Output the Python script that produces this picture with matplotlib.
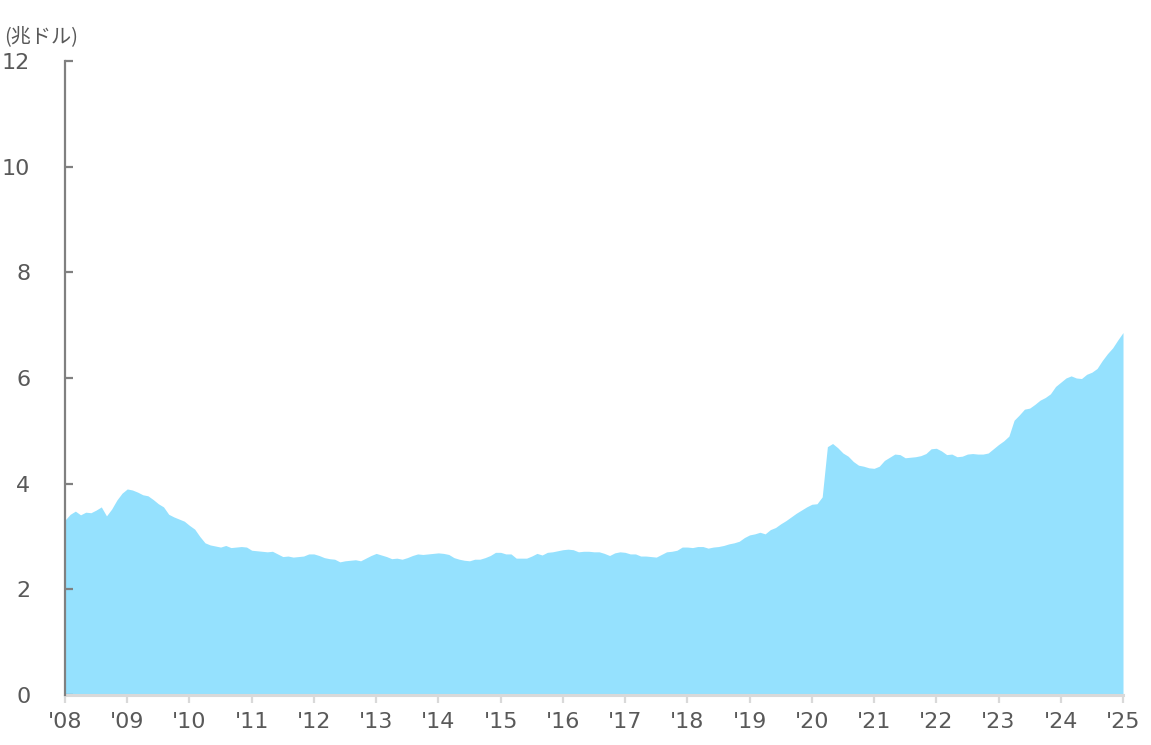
import numpy as np
import matplotlib.pyplot as plt

plt.rcParams['font.family'] = ['DejaVu Sans', 'Noto Sans CJK JP']

# monthly values, Jan 2008 .. Jan 2025 (trillion USD)
y2008 = [3.31, 3.42, 3.48, 3.41, 3.46, 3.45, 3.50, 3.56, 3.39, 3.52, 3.69, 3.82]
y2009 = [3.90, 3.88, 3.84, 3.79, 3.77, 3.70, 3.62, 3.56, 3.42, 3.37, 3.33, 3.29]
y2010 = [3.21, 3.14, 3.00, 2.88, 2.84, 2.82, 2.80, 2.83, 2.79, 2.80, 2.81, 2.80]
y2011 = [2.74, 2.73, 2.72, 2.71, 2.72, 2.67, 2.62, 2.63, 2.61, 2.62, 2.63, 2.67]
y2012 = [2.67, 2.64, 2.60, 2.58, 2.57, 2.52, 2.54, 2.55, 2.56, 2.54, 2.59, 2.64]
y2013 = [2.68, 2.65, 2.62, 2.58, 2.59, 2.57, 2.60, 2.64, 2.67, 2.66, 2.67, 2.68]
y2014 = [2.69, 2.68, 2.66, 2.60, 2.57, 2.55, 2.54, 2.57, 2.57, 2.60, 2.64, 2.70]
y2015 = [2.70, 2.67, 2.67, 2.59, 2.59, 2.59, 2.63, 2.68, 2.65, 2.70, 2.71, 2.73]
y2016 = [2.75, 2.76, 2.75, 2.71, 2.72, 2.72, 2.71, 2.71, 2.68, 2.64, 2.69, 2.71]
y2017 = [2.70, 2.67, 2.67, 2.63, 2.63, 2.62, 2.61, 2.66, 2.71, 2.72, 2.74, 2.80]
y2018 = [2.80, 2.79, 2.81, 2.81, 2.78, 2.80, 2.81, 2.83, 2.86, 2.88, 2.91, 2.98]
y2019 = [3.03, 3.05, 3.08, 3.05, 3.13, 3.17, 3.24, 3.30, 3.37, 3.44, 3.50, 3.56]
y2020 = [3.61, 3.62, 3.75, 4.70, 4.76, 4.68, 4.58, 4.52, 4.42, 4.35, 4.33, 4.30]
y2021 = [4.29, 4.33, 4.44, 4.50, 4.56, 4.55, 4.49, 4.50, 4.51, 4.53, 4.57, 4.66]
y2022 = [4.67, 4.62, 4.55, 4.56, 4.51, 4.52, 4.56, 4.57, 4.56, 4.56, 4.58, 4.66]
y2023 = [4.74, 4.81, 4.90, 5.20, 5.30, 5.41, 5.43, 5.50, 5.58, 5.63, 5.70, 5.84]
y2024 = [5.92, 6.00, 6.04, 6.00, 5.99, 6.07, 6.11, 6.18, 6.33, 6.46, 6.57, 6.72]
y2025 = [6.86]

values = (y2008 + y2009 + y2010 + y2011 + y2012 + y2013 + y2014 + y2015 + y2016
          + y2017 + y2018 + y2019 + y2020 + y2021 + y2022 + y2023 + y2024 + y2025)
years = list(range(2008, 2026))
year_labels = ["'%02d" % (y % 100) for y in years]

x = 2008 + np.arange(len(values)) / 12.0

fig = plt.figure(figsize=(11.51, 7.45), dpi=100)
ax = fig.add_axes([65 / 1151, 1 - 695 / 745, (1123 - 65) / 1151, (695 - 61) / 745])

ax.fill_between(x, 0, values, color='#95e1fe', linewidth=0)

ax.set_xlim(2008, 2025)
ax.set_ylim(0, 12)
ax.set_xticks(years)
ax.set_xticklabels(year_labels)
ax.set_yticks([0, 2, 4, 6, 8, 10, 12])

for side in ['top', 'right']:
    ax.spines[side].set_visible(False)
ax.spines['left'].set_color('#808080')
ax.spines['left'].set_linewidth(1.6)
ax.spines['bottom'].set_color('#d9d9d9')
ax.spines['bottom'].set_linewidth(2.2)
ax.spines['left'].set_zorder(5)

ax.tick_params(axis='x', direction='out', length=6, width=1.6, color='#d9d9d9',
               labelsize=16, labelcolor='#595959', pad=6)
ax.tick_params(axis='y', direction='in', length=6, width=1.6, color='#808080',
               labelsize=16, labelcolor='#595959', pad=25)

fig.text(0.004, 1 - 37 / 745, '(兆ドル)', fontsize=14.5, color='#595959', va='center',
         family=['Noto Sans CJK JP', 'DejaVu Sans'])

fig.savefig('out.png', dpi=100)
